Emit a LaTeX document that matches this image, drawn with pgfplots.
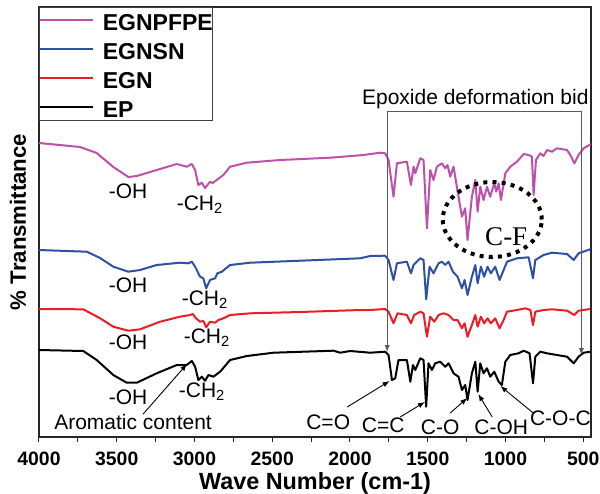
\documentclass[border=0pt]{standalone}
\usepackage{pgfplots}
\pgfplotsset{compat=1.18}
\usepackage{fontspec}
\setmainfont{Liberation Sans}
\newfontfamily\serifcf{Liberation Serif}
\usetikzlibrary{arrows.meta}
\definecolor{cmag}{RGB}{190,80,170}
\definecolor{cblue}{RGB}{45,80,165}
\definecolor{cred}{RGB}{237,28,36}
\begin{document}
\begin{tikzpicture}
\begin{axis}[
  scale only axis=true,
  width=276pt, height=215pt,
  x dir=reverse, y dir=reverse,
  xmin=450, xmax=4000, ymin=7, ymax=437,
  xtick={500,1000,1500,2000,2500,3000,3500,4000},
  minor x tick num=1,
  ytick=\empty,
  xtick pos=bottom,
  tick align=outside,
  major tick length=2.5pt, minor tick length=2.5pt,
  axis line style={black!85, line width=0.6pt},
  every tick/.style={black!85, line width=0.5pt},
  /pgf/number format/assume math mode=true,
  /pgf/number format/1000 sep={},
  ticklabel style={font=\fontsize{9.7}{11}\selectfont\bfseries, yshift=-1.5pt},
  xlabel={Wave Number (cm-1)},
  ylabel={\% Transmittance},
  xlabel style={font=\fontsize{11.7}{13}\selectfont\bfseries, at={(axis description cs:0.5,-0.107)}, anchor=center},
  ylabel style={font=\fontsize{11.1}{13}\selectfont\bfseries, at={(axis description cs:-0.038,0.5)}, anchor=center},
  legend style={draw=black!75, line width=0.5pt, at={(0,1)}, anchor=north west,
    inner xsep=0pt, inner ysep=0pt, row sep=1.7pt,
    font=\fontsize{11.5}{13}\selectfont\bfseries,
    nodes={inner sep=0pt, text height=11.4pt, text depth=1.4pt},
    /tikz/every odd column/.append style={column sep=4.2pt}},
  legend cell align=left,
  legend image code/.code={\draw[#1] (0pt,0pt) -- (26.5pt,0pt);},
  every axis plot/.append style={line width=1pt, line join=round},
]
\addplot[cmag] coordinates {
(4000,143) (3736,147) (3629,153) (3522,167) (3425,177) (3371,176) (3243,170) (3114,164) (3050,166.7) (3017,164) (2996,170) (2975,185) (2953,182.7) (2932,188) (2900,181.7) (2883,183) (2857,180) (2814,175) (2771,166.7) (2663,162.7) (2449,160) (2127,157.7) (1913,155) (1806,152.7) (1774,153.3) (1752,160) (1720,196.7) (1698,163.3) (1634,161.7) (1608,185) (1591,166.7) (1580,173.3) (1548,158.3) (1527,160) (1505,228.3) (1484,170) (1463,180) (1441,166.7) (1409,163.3) (1387,168.3) (1373,165) (1355,176.7) (1334,166.7) (1302,196.7) (1280,216.7) (1259,208.3) (1244,240) (1216,196.7) (1194,180) (1179,211.7) (1162,186.7) (1141,200) (1119,186.7) (1098,196.7) (1072,183.3) (1059,191.7) (1044,183.3) (1029,200) (1001,173.3) (969,166.7) (926,161.7) (883,154) (851,155) (830,156.7) (819,195) (804,160) (776,153.3) (755,156) (733,150) (701,151.7) (669,148.3) (604,150) (583,155) (557,163.3) (530,155) (497,148.3) (450,144)
};
\addlegendentry{EGNPFPE}
\addplot[cblue] coordinates {
(4000,250) (3693,251.7) (3607,258) (3522,266.7) (3425,271.7) (3350,270) (3243,265) (3093,262.7) (3039,263.3) (3017,261.7) (2996,266.7) (2964,276.7) (2943,278.3) (2925,288.3) (2900,280) (2867,278.3) (2853,273.3) (2824,271.7) (2771,265) (2642,262.7) (2320,260.7) (1934,258.3) (1870,256) (1774,255.7) (1752,260) (1720,280) (1698,263.3) (1634,261.7) (1608,273.3) (1591,265) (1548,258.3) (1527,260) (1510,299.3) (1488,266.7) (1463,273.3) (1430,263.3) (1409,261.7) (1387,265) (1366,261.7) (1338,271.7) (1308,276.7) (1280,288.3) (1263,280) (1244,295) (1216,276.7) (1194,265) (1179,283.3) (1158,266.7) (1137,276.7) (1115,266.7) (1094,273.3) (1066,266.7) (1038,280) (1012,270) (990,261.7) (926,258.3) (851,257.3) (823,278.3) (808,260) (755,255) (701,252.7) (604,254) (561,260) (530,253.3) (455,249.3)
};
\addlegendentry{EGNSN}
\addplot[cred] coordinates {
(4000,309) (3715,309.3) (3607,318.3) (3522,326.7) (3425,330.7) (3350,329.3) (3221,321.7) (3093,316.7) (3028,315) (3011,314) (2990,318.3) (2964,321.7) (2943,321) (2925,327.3) (2900,321.7) (2867,322.7) (2846,320) (2814,318.3) (2771,315) (2642,313.3) (2320,312) (1934,310) (1870,310) (1774,309) (1752,311.7) (1720,323.3) (1694,313.3) (1634,315) (1608,323.3) (1587,315) (1548,311.7) (1527,313.3) (1505,336.7) (1484,316.7) (1458,321.7) (1430,315) (1398,313.3) (1366,315) (1334,320) (1308,320) (1280,328.3) (1263,323.3) (1244,336.7) (1216,325) (1194,315) (1179,326.7) (1158,316.7) (1137,323.3) (1115,318.3) (1094,323.3) (1066,318.3) (1038,328.3) (1012,320) (990,311.7) (926,310) (872,308.3) (840,310) (823,325) (808,311.7) (755,310) (701,309.3) (604,310.7) (557,315) (530,310.7) (455,309)
};
\addlegendentry{EGN}
\addplot[black] coordinates {
(4000,350) (3715,351) (3629,360) (3522,375) (3436,382.7) (3371,382.7) (3243,373.3) (3114,365) (3050,365) (3017,361) (2996,366.7) (2975,380) (2953,376.7) (2932,380.7) (2910,375) (2878,376.7) (2835,371.7) (2771,360) (2663,356) (2492,352.7) (2106,350.7) (2063,352.7) (1999,351) (1870,352.7) (1774,351.7) (1752,355) (1730,380) (1709,378.3) (1688,360) (1634,360) (1612,381.7) (1595,365) (1580,370) (1548,358.3) (1527,360) (1510,406.7) (1495,363.3) (1473,370) (1452,363.3) (1420,361.7) (1387,366.7) (1366,363.3) (1334,373.3) (1302,376.7) (1280,390) (1259,385) (1244,400) (1216,373.3) (1194,361.7) (1179,391.7) (1162,363.3) (1141,373.3) (1119,368.3) (1098,376.7) (1072,371.7) (1044,381.7) (1023,385) (1001,361.7) (969,355) (916,353.3) (883,350.7) (845,353.3) (823,383.3) (808,356.7) (776,351.7) (733,353.3) (669,355) (604,356.7) (561,363.3) (530,356.7) (497,352.7) (450,351.7)
};
\addlegendentry{EP}

\coordinate (SW) at (rel axis cs:0,0);
\coordinate (NE) at (rel axis cs:1,1);

% peak labels
\begin{scope}[every node/.style={font=\fontsize{10.5}{12}\selectfont, inner sep=0pt}]
\node at (axis cs:3427,191) {-OH};
\node at (axis cs:2964,205) {-CH\textsubscript{2}};
\node at (axis cs:3427,285) {-OH};
\node at (axis cs:2932,300) {-CH\textsubscript{2}};
\node at (axis cs:3427,342) {-OH};
\node at (axis cs:2919,338) {-CH\textsubscript{2}};
\node at (axis cs:3427,397) {-OH};
\node at (axis cs:2951,392) {-CH\textsubscript{2}};
\node at (axis cs:3395,422) {Aromatic content};
\node at (axis cs:2140,422) {C=O};
\node at (axis cs:1786,425) {C=C};
\node at (axis cs:1420,427) {C-O};
\node at (axis cs:1027,427) {C-OH};
\node at (axis cs:647,418) {C-O-C};
\node at (axis cs:1194,99) {Epoxide deformation bid};
\end{scope}
\begin{scope}[line width=0.45pt, -{Latex[length=3.5pt,width=2.6pt]}]
\draw (axis cs:3330,414) -- (axis cs:3048,364);
\draw (axis cs:2018,407) -- (axis cs:1745,381);
\draw (axis cs:1677,417) -- (axis cs:1518,402);
\draw (axis cs:1355,413) -- (axis cs:1246,398);
\draw (axis cs:1085,417) -- (axis cs:1175,394);
\draw (axis cs:821,413) -- (axis cs:1033,386);
\end{scope}
\draw[black!65, line width=0.5pt, {Latex[length=3.5pt,width=2.6pt]}-{Latex[length=3.5pt,width=2.6pt]}]
  (axis cs:1761,352) -- (axis cs:1761,111) -- (axis cs:512,111) -- (axis cs:512,355);
\draw[line width=2pt, dash pattern=on 2pt off 2.6pt] (axis cs:1085,219.5) ellipse [x radius=24.75pt, y radius=18.75pt];
\node[font=\serifcf\fontsize{13.5}{15}\selectfont, inner sep=0pt] at (axis cs:995,237) {C-F};
\end{axis}
\pgfresetboundingbox
\path ([shift={(-19.5pt,-28pt)}]SW) rectangle ([shift={(4.5pt,3.5pt)}]NE);
\end{tikzpicture}
\end{document}
